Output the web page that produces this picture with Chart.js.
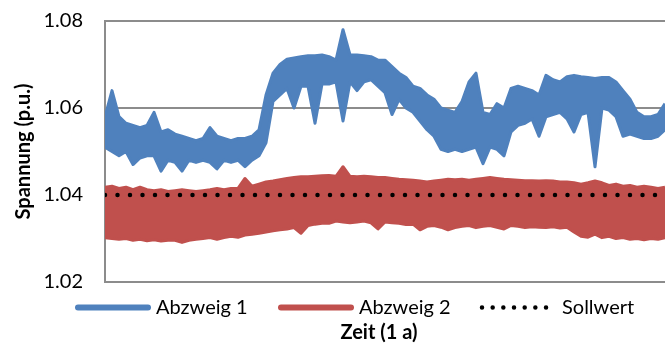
<!DOCTYPE html>
<html>
<head>
<meta charset="utf-8">
<script src="https://cdn.jsdelivr.net/npm/chart.js@4/dist/chart.umd.min.js"></script>
<style>
  html, body { margin: 0; padding: 0; background: #fff; }
  #wrap { width: 665px; height: 344px; position: relative; }
</style>
</head>
<body>
<div id="wrap"><canvas id="Chart"></canvas></div>
<script>
// upper / lower edge of the noisy band (81 samples over the year)
var abzweig1Hi = [1.058,1.064,1.058,1.0565,1.056,1.0555,1.056,1.059,1.0545,1.055,
  1.054,1.0535,1.053,1.0525,1.053,1.0555,1.0535,1.053,1.0525,1.053,
  1.053,1.0535,1.055,1.063,1.068,1.070,1.0712,1.0715,1.0718,1.072,
  1.072,1.0722,1.0718,1.071,1.078,1.0722,1.0722,1.072,1.0718,1.071,
  1.071,1.0695,1.068,1.067,1.065,1.0645,1.063,1.062,1.060,1.0595,
  1.059,1.0615,1.066,1.068,1.059,1.0585,1.061,1.060,1.0645,1.065,
  1.0645,1.064,1.063,1.0675,1.0665,1.066,1.0672,1.0675,1.0672,1.067,
  1.0668,1.067,1.067,1.066,1.064,1.062,1.059,1.058,1.058,1.0585,1.061];
var abzweig1Lo = [1.051,1.050,1.049,1.050,1.047,1.0485,1.049,1.049,1.0455,1.048,
  1.0475,1.0455,1.048,1.0475,1.048,1.0475,1.046,1.048,1.0475,1.048,
  1.0465,1.048,1.049,1.052,1.0615,1.063,1.0645,1.060,1.065,1.065,
  1.0565,1.0655,1.0655,1.066,1.057,1.066,1.064,1.066,1.0665,1.065,
  1.0635,1.0585,1.062,1.060,1.059,1.057,1.055,1.0535,1.0505,1.050,
  1.0505,1.050,1.0505,1.051,1.0472,1.051,1.0505,1.049,1.0545,1.056,
  1.0565,1.0575,1.0535,1.058,1.0585,1.059,1.0575,1.0545,1.0585,1.059,
  1.0465,1.060,1.0595,1.058,1.0535,1.054,1.0535,1.053,1.053,1.0535,1.055];
var abzweig2Hi = [1.0418,1.042,1.0415,1.0418,1.0412,1.0418,1.0412,1.041,1.0412,1.0408,
  1.041,1.0412,1.041,1.0408,1.041,1.0412,1.0415,1.0412,1.0415,1.0415,
  1.0438,1.042,1.0425,1.043,1.0432,1.0435,1.0438,1.044,1.0442,1.0442,
  1.0443,1.0444,1.0445,1.0443,1.0465,1.0443,1.0442,1.0443,1.0442,1.044,
  1.044,1.0438,1.0436,1.0435,1.0434,1.0432,1.043,1.0432,1.0434,1.0436,
  1.0435,1.0436,1.0434,1.0436,1.0438,1.044,1.0438,1.0436,1.0435,1.0434,
  1.0433,1.0433,1.0432,1.0433,1.0432,1.043,1.043,1.0428,1.0425,1.0428,
  1.0432,1.0428,1.0422,1.0425,1.042,1.0422,1.0418,1.042,1.0418,1.0415,1.0418];
var abzweig2Lo = [1.0302,1.030,1.0298,1.030,1.0296,1.0298,1.0295,1.0297,1.0294,1.0296,
  1.0296,1.0291,1.0296,1.0298,1.030,1.0302,1.0298,1.0302,1.0305,1.0303,
  1.0308,1.031,1.0312,1.0315,1.0318,1.032,1.0322,1.0325,1.0312,1.033,
  1.0333,1.0335,1.0335,1.034,1.0338,1.0336,1.0338,1.034,1.0336,1.0322,
  1.0338,1.0336,1.0335,1.0332,1.0333,1.032,1.0328,1.033,1.0326,1.032,
  1.0325,1.0328,1.033,1.0325,1.0328,1.033,1.0326,1.0322,1.033,1.0328,
  1.0325,1.0327,1.0326,1.0325,1.0327,1.0324,1.0326,1.0315,1.0305,1.0303,
  1.031,1.0302,1.0305,1.030,1.0302,1.0298,1.030,1.0297,1.030,1.0298,1.0302];
var sollwert = 1.04;
var yTicks = [1.02, 1.04, 1.06, 1.08];
var seriesNames = ['Abzweig 1', 'Abzweig 2', 'Sollwert'];
var axisTitleX = 'Zeit (1 a)';
var axisTitleY = 'Spannung (p.u.)';

var blue = '#4f81bd';
var red = '#c0504d';
var font = 'Lato, "Noto Sans", sans-serif';

function pts(arr) {
  return arr.map(function (v, i) { return { x: i, y: v }; });
}
var last = abzweig1Hi.length - 1;
var sollPts = [{ x: 0, y: sollwert }, { x: last, y: sollwert }];

// legend + x title drawn by hand below the plot
var bottomTexts = {
  id: 'bottomTexts',
  afterDraw: function (chart) {
    var ctx = chart.ctx;
    var y = 307.5;
    ctx.save();
    ctx.lineCap = 'round';
    ctx.lineWidth = 6;
    ctx.strokeStyle = blue;
    ctx.beginPath(); ctx.moveTo(78, y); ctx.lineTo(148, y); ctx.stroke();
    ctx.strokeStyle = red;
    ctx.beginPath(); ctx.moveTo(281, y); ctx.lineTo(351, y); ctx.stroke();
    ctx.strokeStyle = '#000';
    ctx.lineWidth = 4.5;
    ctx.setLineDash([0, 10.67]);
    ctx.beginPath(); ctx.moveTo(482, y); ctx.lineTo(546.1, y); ctx.stroke();
    ctx.setLineDash([]);
    ctx.fillStyle = '#000';
    ctx.font = '20px ' + font;
    ctx.textBaseline = 'middle';
    ctx.textAlign = 'left';
    ctx.fillText(seriesNames[0], 156, y);
    ctx.fillText(seriesNames[1], 359, y);
    ctx.fillText(seriesNames[2], 562, y);
    ctx.font = 'bold 20px ' + font;
    ctx.textAlign = 'center';
    ctx.fillText(axisTitleX, 379, 333);
    ctx.restore();
  }
};

var ctx = document.getElementById('Chart').getContext('2d');
var chart = new Chart(ctx, {
  type: 'line',
  data: {
    datasets: [
      { label: seriesNames[2], data: sollPts, borderColor: '#000', borderWidth: 4.5,
        borderDash: [0, 12.5], borderCapStyle: 'round', pointRadius: 0, fill: false, order: 0 },
      { label: seriesNames[0], data: pts(abzweig1Hi), borderColor: blue, backgroundColor: blue,
        borderWidth: 3, pointRadius: 0, fill: false, order: 2 },
      { label: seriesNames[0], data: pts(abzweig1Lo), borderColor: blue, backgroundColor: blue,
        borderWidth: 3, pointRadius: 0, fill: '-1', order: 2 },
      { label: seriesNames[1], data: pts(abzweig2Hi), borderColor: red, backgroundColor: red,
        borderWidth: 3, pointRadius: 0, fill: false, order: 1 },
      { label: seriesNames[1], data: pts(abzweig2Lo), borderColor: red, backgroundColor: red,
        borderWidth: 3, pointRadius: 0, fill: '-1', order: 1 }
    ]
  },
  options: {
    responsive: true,
    maintainAspectRatio: false,
    animation: false,
    layout: { padding: { left: 0, right: 0, top: 21, bottom: 54 } },
    elements: { line: { tension: 0, borderJoinStyle: 'round' } },
    plugins: { legend: { display: false }, tooltip: { enabled: false } },
    scales: {
      x: {
        type: 'linear', min: 0, max: last,
        ticks: { display: false },
        grid: { display: false },
        border: { color: '#8c8c8c', width: 2 }
      },
      y: {
        min: 1.02, max: 1.08,
        afterBuildTicks: function (scale) {
          scale.ticks = yTicks.map(function (v) { return { value: v }; });
        },
        afterFit: function (scale) {
          scale.width = 105;
          scale.paddingTop = 0;
          scale.paddingBottom = 0;
        },
        ticks: {
          padding: 22, color: '#000',
          font: { family: font, size: 20 },
          callback: function (v) { return v.toFixed(2); }
        },
        grid: { color: '#8c8c8c', lineWidth: 2, drawTicks: false },
        border: { color: '#8c8c8c', width: 2 },
        title: {
          display: true, text: axisTitleY, color: '#000',
          font: { family: font, size: 20, weight: 'bold' },
          padding: { top: 12, bottom: 0 }
        }
      }
    }
  },
  plugins: [bottomTexts]
});
</script>
</body>
</html>
